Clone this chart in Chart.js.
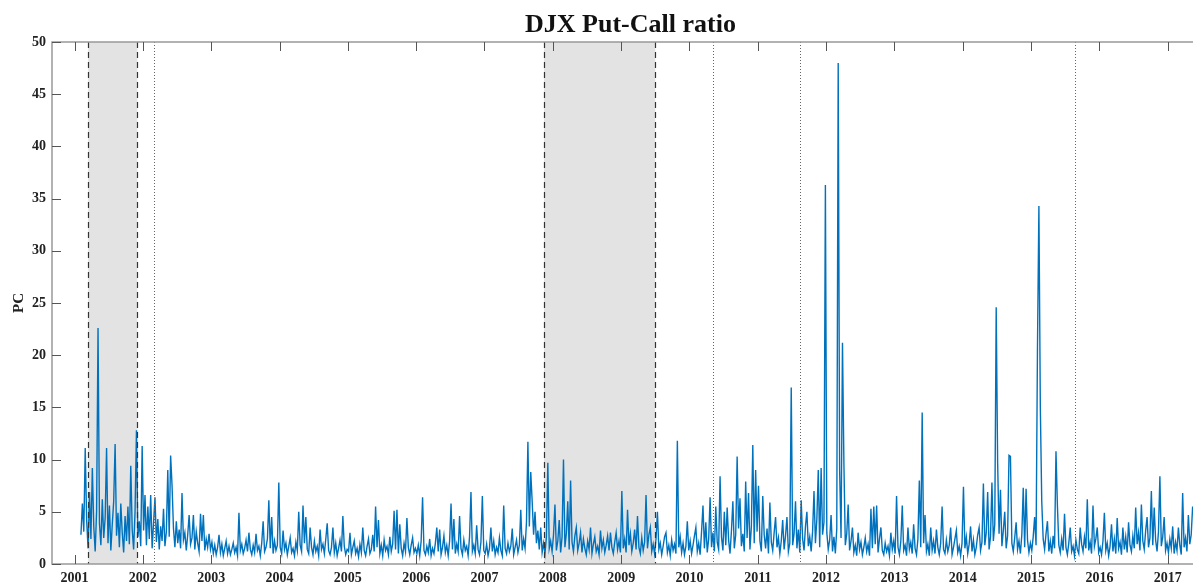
<!DOCTYPE html>
<html>
<head>
<meta charset="utf-8">
<script src="https://cdn.jsdelivr.net/npm/chart.js@4.4.0/dist/chart.umd.min.js"></script>
<style>
  html, body { margin: 0; padding: 0; background: #fff; }
  #wrap { width: 1193px; height: 584px; }
</style>
</head>
<body>
<div id="wrap"><canvas id="pcChart"></canvas></div>
<script>
// roughly weekly readings of the DJX put-call ratio, 48 per year
const samplesPerYear = 48;
const yearTicks = [2001, 2002, 2003, 2004, 2005, 2006, 2007, 2008, 2009, 2010, 2011, 2012, 2013, 2014, 2015, 2016, 2017];
const yTicks = [0, 5, 10, 15, 20, 25, 30, 35, 40, 45, 50];

const pc2001 = [null, null, null, null, 2.8, 5.8, 3.1, 11.1, 4.2, 1.5, 6.9, 2.4, 9.2, 3.6, 1.2, 5.1, 22.6, 3.9, 1.8, 6.2, 2.5, 4.4, 11.1, 2.0, 5.6, 1.3, 3.8, 6.0, 11.5, 2.7, 4.9, 1.6, 5.8, 3.0, 1.1, 4.6, 2.2, 5.5, 1.9, 9.4, 3.3, 1.4, 5.0, 12.8, 2.6, 4.1, 1.7, 11.3];
const pc2002 = [3.2, 6.6, 1.8, 5.5, 2.4, 6.6, 1.5, 3.9, 6.4, 2.1, 4.3, 1.4, 3.6, 2.2, 5.3, 1.7, 3.1, 9.0, 2.6, 10.4, 7.5, 3.4, 1.6, 4.1, 2.0, 3.3, 1.5, 6.8, 2.3, 3.0, 1.3, 2.8, 4.7, 1.9, 2.5, 4.7, 1.4, 3.1, 2.0, 1.2, 4.8, 2.2, 4.7, 1.3, 2.4, 1.6, 2.9, 1.4];
const pc2003 = [2.1, 1.0, 1.8, 0.9, 1.6, 2.8, 1.1, 1.9, 0.8, 1.5, 2.2, 1.0, 1.7, 0.9, 1.4, 2.0, 1.1, 1.6, 0.8, 4.9, 1.3, 1.9, 1.0, 1.5, 2.3, 1.2, 3.0, 1.4, 0.9, 1.8, 1.1, 2.9, 1.3, 1.7, 0.8, 2.0, 4.1, 1.2, 1.6, 2.4, 6.1, 1.5, 4.5, 1.0, 2.2, 1.3, 1.8, 7.8];
const pc2004 = [1.6, 1.0, 3.2, 1.4, 2.0, 0.9, 1.7, 2.5, 1.1, 1.5, 0.8, 2.1, 1.3, 5.0, 1.8, 1.2, 5.6, 2.0, 4.5, 1.4, 1.0, 3.5, 1.6, 0.9, 2.2, 1.2, 1.7, 0.8, 3.3, 1.4, 1.9, 1.0, 2.4, 3.9, 1.3, 0.9, 1.6, 3.5, 1.1, 2.0, 0.8, 1.5, 2.3, 1.2, 4.6, 1.7, 0.9, 1.4];
const pc2005 = [1.2, 3.0, 0.9, 1.6, 2.2, 1.0, 1.5, 0.7, 1.9, 1.1, 3.5, 1.3, 0.8, 1.7, 2.4, 1.0, 1.4, 2.8, 1.2, 5.5, 1.6, 4.2, 1.0, 1.8, 0.8, 2.3, 1.3, 1.7, 0.9, 2.6, 1.2, 1.9, 5.1, 1.4, 5.2, 1.0, 3.8, 1.5, 0.8, 2.0, 1.2, 4.4, 1.6, 0.9, 1.8, 2.5, 1.1, 1.5];
const pc2006 = [1.0, 1.8, 0.8, 2.2, 6.4, 1.3, 0.9, 1.7, 1.1, 2.4, 0.8, 1.5, 1.0, 2.0, 3.5, 1.2, 3.3, 0.9, 1.6, 2.7, 1.1, 1.8, 0.8, 2.2, 5.8, 1.4, 4.3, 1.0, 1.9, 1.2, 4.6, 1.5, 0.9, 2.3, 1.3, 1.7, 0.8, 2.6, 6.9, 1.2, 1.8, 1.0, 3.7, 1.4, 0.9, 2.1, 6.5, 1.3];
const pc2007 = [1.0, 1.9, 0.8, 1.5, 3.5, 1.2, 2.2, 0.9, 1.6, 1.1, 2.5, 1.3, 0.8, 5.6, 1.5, 1.0, 2.0, 1.2, 1.7, 3.4, 0.9, 1.6, 2.3, 1.1, 1.8, 5.2, 1.3, 2.4, 1.5, 4.0, 11.7, 3.6, 8.8, 6.0, 2.8, 5.0, 2.0, 3.2, 1.4, 3.5, 1.1, 2.0, 1.0, 2.6, 9.7, 1.5, 2.2, 1.2];
const pc2008 = [2.8, 5.7, 1.3, 2.2, 4.2, 1.1, 2.6, 10.0, 1.6, 2.9, 6.0, 1.4, 8.0, 2.1, 1.2, 2.7, 3.5, 1.3, 2.0, 3.0, 1.1, 2.4, 1.5, 0.9, 2.2, 1.4, 3.5, 1.0, 1.9, 2.6, 1.2, 1.7, 0.9, 3.2, 1.5, 2.3, 1.1, 1.8, 2.7, 1.3, 3.0, 1.6, 1.0, 2.1, 3.0, 1.4, 2.2, 1.1];
const pc2009 = [7.0, 1.5, 2.4, 1.1, 5.2, 1.8, 2.9, 1.2, 2.0, 3.3, 1.4, 4.6, 1.6, 1.0, 2.5, 1.3, 2.1, 6.6, 1.5, 2.8, 3.5, 1.2, 1.9, 1.0, 2.4, 5.0, 1.4, 2.0, 0.9, 1.7, 2.6, 3.0, 1.1, 1.8, 0.8, 2.3, 1.3, 1.9, 1.0, 11.8, 1.6, 2.6, 1.1, 2.0, 0.9, 1.7, 4.1, 1.3];
const pc2010 = [2.2, 1.0, 1.8, 2.7, 3.5, 1.2, 2.0, 0.9, 3.1, 5.6, 1.5, 4.0, 1.1, 2.4, 6.4, 1.6, 3.0, 1.2, 5.5, 2.1, 1.4, 8.4, 2.6, 1.3, 5.0, 1.8, 5.4, 2.3, 1.0, 3.2, 6.0, 1.5, 2.8, 10.3, 3.4, 6.3, 1.7, 2.9, 1.2, 7.9, 2.5, 6.8, 1.4, 3.6, 11.4, 2.0, 9.0, 3.1];
const pc2011 = [7.5, 2.2, 1.2, 6.5, 2.8, 1.5, 3.4, 1.0, 5.9, 2.1, 1.3, 3.0, 4.5, 1.6, 2.5, 1.0, 2.2, 4.2, 1.4, 2.7, 4.5, 1.2, 2.0, 16.9, 1.8, 2.9, 6.0, 1.5, 3.3, 1.1, 6.1, 2.4, 1.3, 3.6, 5.0, 1.7, 2.6, 1.2, 3.1, 7.0, 2.0, 4.3, 9.0, 1.6, 9.2, 2.8, 4.0, 36.3];
const pc2012 = [3.0, 1.4, 2.3, 4.7, 1.2, 2.6, 1.0, 3.4, 48.0, 9.0, 2.5, 21.2, 9.7, 1.8, 2.9, 5.7, 1.3, 2.2, 3.5, 1.1, 1.8, 0.8, 3.0, 1.4, 2.1, 0.9, 1.6, 2.5, 1.2, 1.9, 0.8, 5.3, 1.5, 5.5, 1.9, 5.6, 1.1, 2.4, 3.5, 1.3, 0.9, 2.0, 1.2, 1.7, 0.8, 3.0, 1.4, 2.2];
const pc2013 = [1.0, 6.5, 1.6, 0.9, 2.2, 5.6, 1.3, 1.8, 0.8, 3.5, 1.4, 2.1, 1.0, 3.8, 1.5, 0.9, 2.4, 8.0, 1.6, 14.5, 2.0, 4.7, 1.2, 1.9, 0.8, 3.5, 1.3, 2.2, 1.0, 3.3, 1.6, 0.9, 2.0, 5.5, 1.4, 1.0, 2.3, 1.2, 1.8, 3.5, 0.9, 1.6, 2.4, 3.2, 1.1, 1.7, 0.8, 2.0];
const pc2014 = [7.4, 1.5, 2.6, 1.0, 1.9, 3.6, 1.2, 2.3, 0.9, 1.6, 2.8, 3.5, 1.3, 2.1, 7.7, 1.8, 3.0, 6.9, 1.4, 2.6, 7.8, 2.2, 3.8, 24.6, 9.8, 2.9, 7.1, 1.7, 3.2, 5.0, 1.5, 2.7, 10.4, 10.3, 2.0, 1.2, 2.5, 4.0, 1.4, 2.2, 1.0, 2.8, 7.3, 1.6, 7.2, 2.3, 1.1, 2.0];
const pc2015 = [1.3, 2.6, 4.5, 1.8, 20.8, 34.3, 15.0, 6.0, 2.4, 1.4, 2.9, 4.1, 1.2, 2.2, 1.0, 2.7, 1.5, 10.8, 5.6, 1.8, 1.1, 2.4, 1.3, 4.8, 1.6, 0.9, 2.0, 3.5, 1.2, 1.7, 0.8, 2.3, 1.4, 1.0, 3.5, 1.9, 1.2, 2.6, 1.5, 6.2, 1.3, 2.1, 1.0, 5.6, 1.7, 2.4, 3.5, 1.1];
const pc2016 = [1.6, 0.9, 2.2, 4.9, 1.3, 2.0, 0.8, 1.7, 3.8, 1.2, 2.4, 1.0, 4.4, 1.5, 2.1, 0.9, 3.5, 1.4, 2.6, 1.1, 4.0, 1.8, 1.2, 2.7, 1.5, 5.4, 1.9, 3.0, 1.3, 5.7, 2.2, 1.4, 3.2, 4.5, 1.6, 2.5, 7.0, 1.8, 5.4, 2.3, 1.2, 3.1, 8.4, 1.7, 2.6, 4.5, 1.3, 2.0];
const pc2017 = [1.1, 2.4, 1.5, 3.6, 1.0, 2.1, 1.3, 3.5, 1.8, 0.9, 6.8, 1.6, 2.5, 1.2, 4.7, 1.9, 2.8, 5.5];

// shaded recessions (dashed edges) and dotted event markers, in decimal years
const recessionStart = [2001.2, 2007.87];
const recessionEnd = [2001.92, 2009.5];
const eventLines = [2002.17, 2010.34, 2011.62, 2015.64];

const chartTitle = 'DJX Put-Call ratio';

const yearlySeries = [
  [2001, pc2001], [2002, pc2002], [2003, pc2003], [2004, pc2004], [2005, pc2005],
  [2006, pc2006], [2007, pc2007], [2008, pc2008], [2009, pc2009], [2010, pc2010],
  [2011, pc2011], [2012, pc2012], [2013, pc2013], [2014, pc2014], [2015, pc2015],
  [2016, pc2016], [2017, pc2017]
];

const points = [];
yearlySeries.forEach(([yr, vals]) => {
  vals.forEach((v, i) => {
    if (v !== null) points.push({ x: yr + (i + 0.5) / samplesPerYear, y: v });
  });
});

const serif = '"Liberation Serif", "Times New Roman", serif';

const framePlugin = {
  id: 'frame',
  beforeDatasetsDraw(chart) {
    const { ctx, chartArea: a, scales: { x } } = chart;
    ctx.save();
    ctx.fillStyle = '#e3e3e3';
    recessionStart.forEach((s, i) => {
      const x0 = x.getPixelForValue(s), x1 = x.getPixelForValue(recessionEnd[i]);
      ctx.fillRect(x0, a.top, x1 - x0, a.bottom - a.top);
    });
    ctx.restore();
  },
  afterDatasetsDraw(chart) {
    const { ctx, chartArea: a, scales: { x, y } } = chart;
    ctx.save();
    // dashed recession edges
    ctx.strokeStyle = '#333';
    ctx.lineWidth = 1.2;
    ctx.setLineDash([6, 4]);
    recessionStart.concat(recessionEnd).forEach(v => {
      const px = Math.round(x.getPixelForValue(v)) + 0.5;
      ctx.beginPath(); ctx.moveTo(px, a.top); ctx.lineTo(px, a.bottom); ctx.stroke();
    });
    // dotted event lines
    ctx.strokeStyle = '#666';
    ctx.lineWidth = 1;
    ctx.setLineDash([1, 2]);
    eventLines.forEach(v => {
      const px = Math.round(x.getPixelForValue(v)) + 0.5;
      ctx.beginPath(); ctx.moveTo(px, a.top); ctx.lineTo(px, a.bottom); ctx.stroke();
    });
    ctx.setLineDash([]);

    // axis box (top, left, bottom)
    ctx.strokeStyle = '#999';
    ctx.lineWidth = 1.5;
    ctx.beginPath();
    ctx.moveTo(a.right, a.top); ctx.lineTo(a.left, a.top);
    ctx.lineTo(a.left, a.bottom); ctx.lineTo(a.right, a.bottom);
    ctx.stroke();

    // inward ticks
    ctx.strokeStyle = '#555';
    ctx.lineWidth = 1;
    const tl = 9;
    yearTicks.forEach(v => {
      const px = Math.round(x.getPixelForValue(v)) + 0.5;
      ctx.beginPath();
      ctx.moveTo(px, a.top); ctx.lineTo(px, a.top + tl);
      ctx.moveTo(px, a.bottom); ctx.lineTo(px, a.bottom - tl);
      ctx.stroke();
    });
    yTicks.forEach(v => {
      const py = Math.round(y.getPixelForValue(v)) + 0.5;
      ctx.beginPath(); ctx.moveTo(a.left, py); ctx.lineTo(a.left + tl, py); ctx.stroke();
    });

    // title, centred a little right of the plot centre as in the source figure
    ctx.fillStyle = '#111';
    ctx.font = 'bold 26px ' + serif;
    ctx.textAlign = 'center';
    ctx.textBaseline = 'alphabetic';
    ctx.fillText(chartTitle, (a.left + a.right) / 2 + 8, 32);
    ctx.restore();
  }
};

new Chart(document.getElementById('pcChart'), {
  type: 'line',
  data: {
    datasets: [{
      label: 'PC',
      data: points,
      borderColor: '#0072BD',
      borderWidth: 1.4,
      pointRadius: 0,
      tension: 0,
      fill: false
    }]
  },
  options: {
    responsive: true,
    maintainAspectRatio: false,
    animation: false,
    layout: { padding: { top: 42, left: 0, right: 0, bottom: 0 } },
    plugins: {
      legend: { display: false },
      tooltip: { enabled: false },
      title: { display: false }
    },
    scales: {
      x: {
        type: 'linear',
        min: 2000.67,
        max: 2017.37,
        afterBuildTicks: s => { s.ticks = yearTicks.map(v => ({ value: v })); },
        afterFit: s => { s.height = 20; },
        grid: { display: false, drawTicks: false },
        border: { display: false },
        ticks: {
          padding: 6,
          maxRotation: 0,
          autoSkip: false,
          color: '#222',
          font: { family: serif, size: 14, weight: 'bold' },
          callback: v => String(v)
        }
      },
      y: {
        min: 0,
        max: 50,
        afterBuildTicks: s => { s.ticks = yTicks.map(v => ({ value: v })); },
        afterFit: s => { s.width = 52; },
        grid: { display: false, drawTicks: false },
        border: { display: false },
        ticks: {
          padding: 6,
          color: '#222',
          font: { family: serif, size: 14, weight: 'bold' }
        },
        title: {
          display: true,
          text: 'PC',
          color: '#222',
          font: { family: serif, size: 15, weight: 'bold' },
          padding: { top: 10, bottom: 0 }
        }
      }
    }
  },
  plugins: [framePlugin]
});
</script>
</body>
</html>
